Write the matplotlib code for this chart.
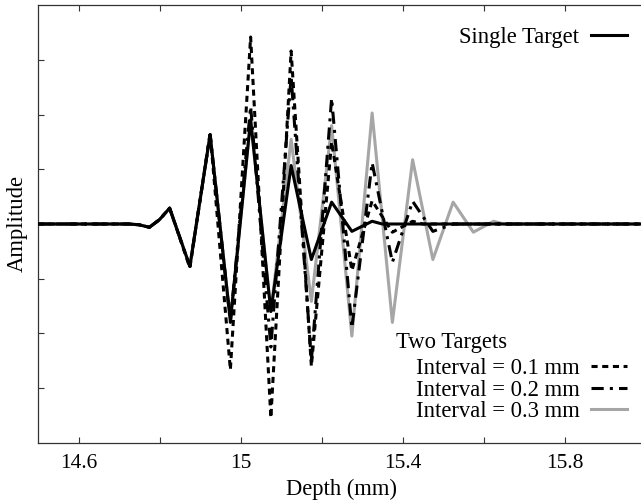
import numpy as np
import matplotlib.pyplot as plt

# depth (mm) and amplitude
single_depth = [14.5, 14.7, 14.725, 14.75, 14.775, 14.8, 14.825, 14.875, 14.925,
                14.975, 15.025, 15.075, 15.125, 15.175, 15.225, 15.275, 15.325,
                15.35, 16.0]
single_amp = [0.0, 0.0, 0.0, -0.003, -0.012, 0.016, 0.058, -0.155, 0.327,
              -0.355, 0.381, -0.32, 0.214, -0.13, 0.08, -0.027, 0.01,
              0.0, 0.0]

int1_depth = [14.5, 14.7, 14.725, 14.75, 14.775, 14.8, 14.825, 14.875, 14.925,
              14.975, 15.025, 15.075, 15.125, 15.175, 15.225, 15.275, 15.325,
              15.375, 15.425, 15.45, 16.0]
int1_amp = [0.0, 0.0, 0.0, -0.003, -0.012, 0.016, 0.058, -0.16, 0.333,
            -0.533, 0.684, -0.709, 0.633, -0.52, 0.30, -0.17, 0.085,
            -0.03, 0.01, 0.0, 0.0]

int2_depth = [14.5, 14.7, 14.725, 14.75, 14.775, 14.8, 14.825, 14.875, 14.925,
              14.975, 15.025, 15.075, 15.125, 15.175, 15.225, 15.275, 15.325,
              15.375, 15.425, 15.475, 15.525, 16.0]
int2_amp = [0.0, 0.0, 0.0, -0.003, -0.012, 0.016, 0.058, -0.155, 0.327,
            -0.36, 0.43, -0.45, 0.54, -0.50, 0.46, -0.38, 0.224,
            -0.14, 0.083, -0.027, 0.0, 0.0]

int3_depth = [14.5, 14.7, 14.725, 14.75, 14.775, 14.8, 14.825, 14.875, 14.925,
              14.975, 15.025, 15.075, 15.125, 15.175, 15.225, 15.275, 15.325,
              15.375, 15.425, 15.475, 15.525, 15.575, 15.625, 15.65, 16.0]
int3_amp = [0.0, 0.0, 0.0, -0.003, -0.012, 0.016, 0.058, -0.155, 0.327,
            -0.355, 0.381, -0.32, 0.31, -0.283, 0.36, -0.41, 0.406,
            -0.36, 0.235, -0.13, 0.08, -0.03, 0.01, 0.0, 0.0]

x_ticks = [14.6, 14.8, 15.0, 15.2, 15.4, 15.6, 15.8]
x_labels = ['14.6', '', '15', '', '15.4', '', '15.8']

plt.rcParams['font.family'] = ['Liberation Serif', 'DejaVu Serif']
FS = 16.3

fig = plt.figure(figsize=(6.41, 5.03), dpi=100)
ax = fig.add_axes([38 / 641, 1 - 442.7 / 503, 607.5 / 641, 437.4 / 503])

l3, = ax.plot(int3_depth, int3_amp, color='#a6a6a6', lw=2.2, zorder=2)
l2, = ax.plot(int2_depth, int2_amp, color='black', lw=2.2,
              linestyle=(0, (4, 2, 1, 2)), zorder=3)
l1, = ax.plot(int1_depth, int1_amp, color='black', lw=2.2,
              linestyle=(0, (2, 1.5)), zorder=4)
l0, = ax.plot(single_depth, single_amp, color='black', lw=2.2, zorder=5)

ax.set_xlim(14.5, 16.0)
ax.set_ylim(-0.8, 0.8)
ax.set_xticks(x_ticks)
ax.set_xticklabels(x_labels, fontsize=15.5)
ax.set_yticks(np.arange(-0.6, 0.61, 0.2))
ax.set_yticklabels([])
ax.tick_params(direction='in', length=4.5, width=0.8, top=True, right=False,
               pad=8, color='#333333')
for s in ax.spines.values():
    s.set_linewidth(0.9)
    s.set_color('#333333')

ax.set_xlabel('Depth (mm)', fontsize=FS, labelpad=4)
ax.set_ylabel('Amplitude', fontsize=FS)
ax.yaxis.set_label_coords(-0.017, 0.5)

leg1 = ax.legend([l0], ['Single Target'], loc='center right',
                 bbox_to_anchor=(0.9696, 0.927), frameon=False,
                 markerfirst=False, fontsize=FS, borderpad=0,
                 borderaxespad=0, handlelength=1.6, handletextpad=0.5)
ax.add_artist(leg1)
ax.legend([l1, l2, l3],
          ['Interval = 0.1 mm', 'Interval = 0.2 mm', 'Interval = 0.3 mm'],
          loc='center right', bbox_to_anchor=(0.9696, 0.12), frameon=False,
          markerfirst=False, fontsize=FS, borderpad=0, borderaxespad=0,
          handlelength=1.6, handletextpad=0.5, labelspacing=0.02)
ax.text(0.589, 0.228, 'Two Targets', transform=ax.transAxes, fontsize=FS,
        ha='left', va='center')

fig.savefig('out.png', dpi=100)
